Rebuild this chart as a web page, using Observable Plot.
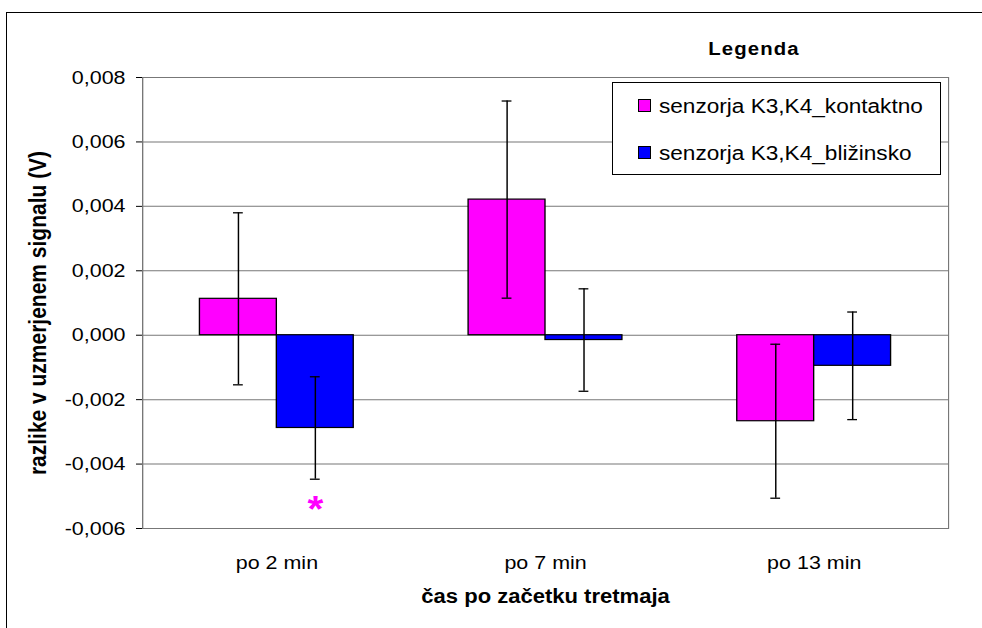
<!DOCTYPE html>
<html>
<head>
<meta charset="utf-8">
<script src="https://cdn.jsdelivr.net/npm/d3@7"></script>
<script src="https://cdn.jsdelivr.net/npm/@observablehq/plot@0.6"></script>
<style>
  html, body { margin: 0; padding: 0; background: #fff; }
  #wrap { position: relative; width: 982px; height: 628px; overflow: hidden; background: #fff;
          font-family: "Liberation Sans", Arial, sans-serif; }
  #chart { position: absolute; left: 0; top: 0; }
  #frame { position: absolute; left: 6px; top: 12px; width: 1200px; height: 900px; border: 1px solid #000; pointer-events: none; }
  #legendTitle { position: absolute; left: 654px; top: 40px; width: 200px; text-align: center;
                 font-size: 18px; line-height: 18px; font-weight: bold; letter-spacing: 1px;
                 transform: scaleX(1.13); transform-origin: center; }
  #legend { position: absolute; left: 612px; top: 82px; width: 327px; height: 91px;
            border: 1px solid #000; background: #fff; }
  .sw { position: absolute; width: 11px; height: 11px; border: 1px solid #000; }
  .lt { position: absolute; font-size: 20px; line-height: 20px; white-space: nowrap;
        transform: scaleX(1.13); transform-origin: left; }
</style>
</head>
<body>
<div id="wrap">
  <div id="chart"></div>
  <div id="frame"></div>
  <div id="legendTitle"></div>
  <div id="legend"></div>
</div>
<script>
// ---- data ----
const times = ["po 2 min", "po 7 min", "po 13 min"];
const seriesNames = ["senzorja K3,K4_kontaktno", "senzorja K3,K4_bližinsko"];
const seriesColors = ["#ff00ff", "#0000ff"];
const kontaktnoMean = [0.00113, 0.00421, -0.00267];
const kontaktnoErr  = [0.00267, 0.00306, 0.00239];
const blizinskoMean = [-0.00288, -0.00015, -0.00095];
const blizinskoErr  = [0.00159, 0.00159, 0.00167];
const yTicks = [-0.006, -0.004, -0.002, 0, 0.002, 0.004, 0.006, 0.008];
const significant = [{time: "po 2 min", series: "senzorja K3,K4_bližinsko", mark: "*"}];
const yTitle = "razlike v uzmerjenem signalu (V)";
const xTitle = "čas po začetku tretmaja";
const legendTitle = "Legenda";

// ---- table ----
const means = [kontaktnoMean, blizinskoMean];
const errs = [kontaktnoErr, blizinskoErr];
const rows = [];
seriesNames.forEach((s, si) => times.forEach((t, ti) =>
  rows.push({time: t, series: s, si, value: means[si][ti], err: errs[si][ti]})));

// ---- layout ----
const SX = 1.13;                 // horizontal stretch of the original picture
const W = 982 / SX, H = 628;
const ml = 142 / SX, mr = 34 / SX, mt = 77, mb = 100;
const padIn = 0.4275, padOut = padIn / 2;
const band = d3.scaleBand(times, [ml, W - mr]).paddingInner(padIn).paddingOuter(padOut);
const bw = band.bandwidth();
const n = seriesNames.length;
const sub = bw / n;
const capHalf = 4.9 / SX;
const fmt = d => d.toFixed(3).replace(".", ",");

const marks = [
  Plot.frame({stroke: "#777"}),
  Plot.ruleY(yTicks, {stroke: "#777"})
];
seriesNames.forEach((s, si) => {
  const d = rows.filter(r => r.si === si);
  marks.push(Plot.barY(d, {x: "time", y1: 0, y2: "value", fill: "series", stroke: "#000", strokeWidth: 1.2,
    insetLeft: si * sub, insetRight: (n - 1 - si) * sub}));
});
seriesNames.forEach((s, si) => {
  const d = rows.filter(r => r.si === si);
  const off = (si + 0.5) * sub - bw / 2;
  const cL = (si + 0.5) * sub - capHalf, cR = bw - (si + 0.5) * sub - capHalf;
  marks.push(Plot.ruleX(d, {x: "time", y1: r => r.value - r.err, y2: r => r.value + r.err, dx: off, stroke: "#000", strokeWidth: 1.3}));
  marks.push(Plot.tickY(d, {x: "time", y: r => r.value + r.err, insetLeft: cL, insetRight: cR, stroke: "#000", strokeWidth: 1.3}));
  marks.push(Plot.tickY(d, {x: "time", y: r => r.value - r.err, insetLeft: cL, insetRight: cR, stroke: "#000", strokeWidth: 1.3}));
});
significant.forEach(sg => {
  const r = rows.find(q => q.time === sg.time && q.series === sg.series);
  const off = (r.si + 0.5) * sub - bw / 2;
  marks.push(Plot.text([r], {x: "time", y: q => q.value - q.err, dx: off, dy: 17, text: () => sg.mark,
    fill: seriesColors[0], fontSize: 36, fontWeight: "bold", lineAnchor: "top"}));
});
marks.push(Plot.text([yTitle], {frameAnchor: "left", rotate: -90, dx: -104 / SX, dy: 10, text: d => d,
  textAnchor: "middle", lineAnchor: "middle", fontWeight: "bold", fontSize: 21, fill: "#000"}));
marks.push(Plot.text([xTitle], {frameAnchor: "bottom", dy: 68.5, text: d => d,
  textAnchor: "middle", lineAnchor: "middle", fontWeight: "bold", fontSize: 19.5, fill: "#000"}));

const svg = Plot.plot({
  width: W, height: H,
  marginLeft: ml, marginRight: mr, marginTop: mt, marginBottom: mb,
  style: {fontFamily: "Liberation Sans, Arial, sans-serif", fontSize: "19px", background: "transparent", color: "#000", overflow: "visible"},
  x: {domain: times, type: "band", paddingInner: padIn, paddingOuter: padOut, round: false,
      tickSize: 0, tickPadding: 27, label: null},
  y: {domain: [-0.006, 0.008], ticks: yTicks, tickFormat: fmt, tickSize: 6 / SX, tickPadding: 11 / SX,
      label: null, line: true},
  color: {domain: seriesNames, range: seriesColors},
  marks
});
svg.setAttribute("preserveAspectRatio", "none");
svg.setAttribute("width", 982);
svg.setAttribute("height", 628);
svg.style.width = "982px";
svg.style.height = "628px";
svg.style.maxWidth = "none";
document.getElementById("chart").appendChild(svg);

// ---- legend ----
document.getElementById("legendTitle").textContent = legendTitle;
const lg = document.getElementById("legend");
seriesNames.forEach((s, i) => {
  const sw = document.createElement("div");
  sw.className = "sw";
  sw.style.left = "25px";
  sw.style.top = (16 + 47 * i) + "px";
  sw.style.background = seriesColors[i];
  lg.appendChild(sw);
  const t = document.createElement("div");
  t.className = "lt";
  t.style.left = "46px";
  t.style.top = (13 + 47 * i) + "px";
  t.textContent = s;
  lg.appendChild(t);
});
</script>
</body>
</html>
